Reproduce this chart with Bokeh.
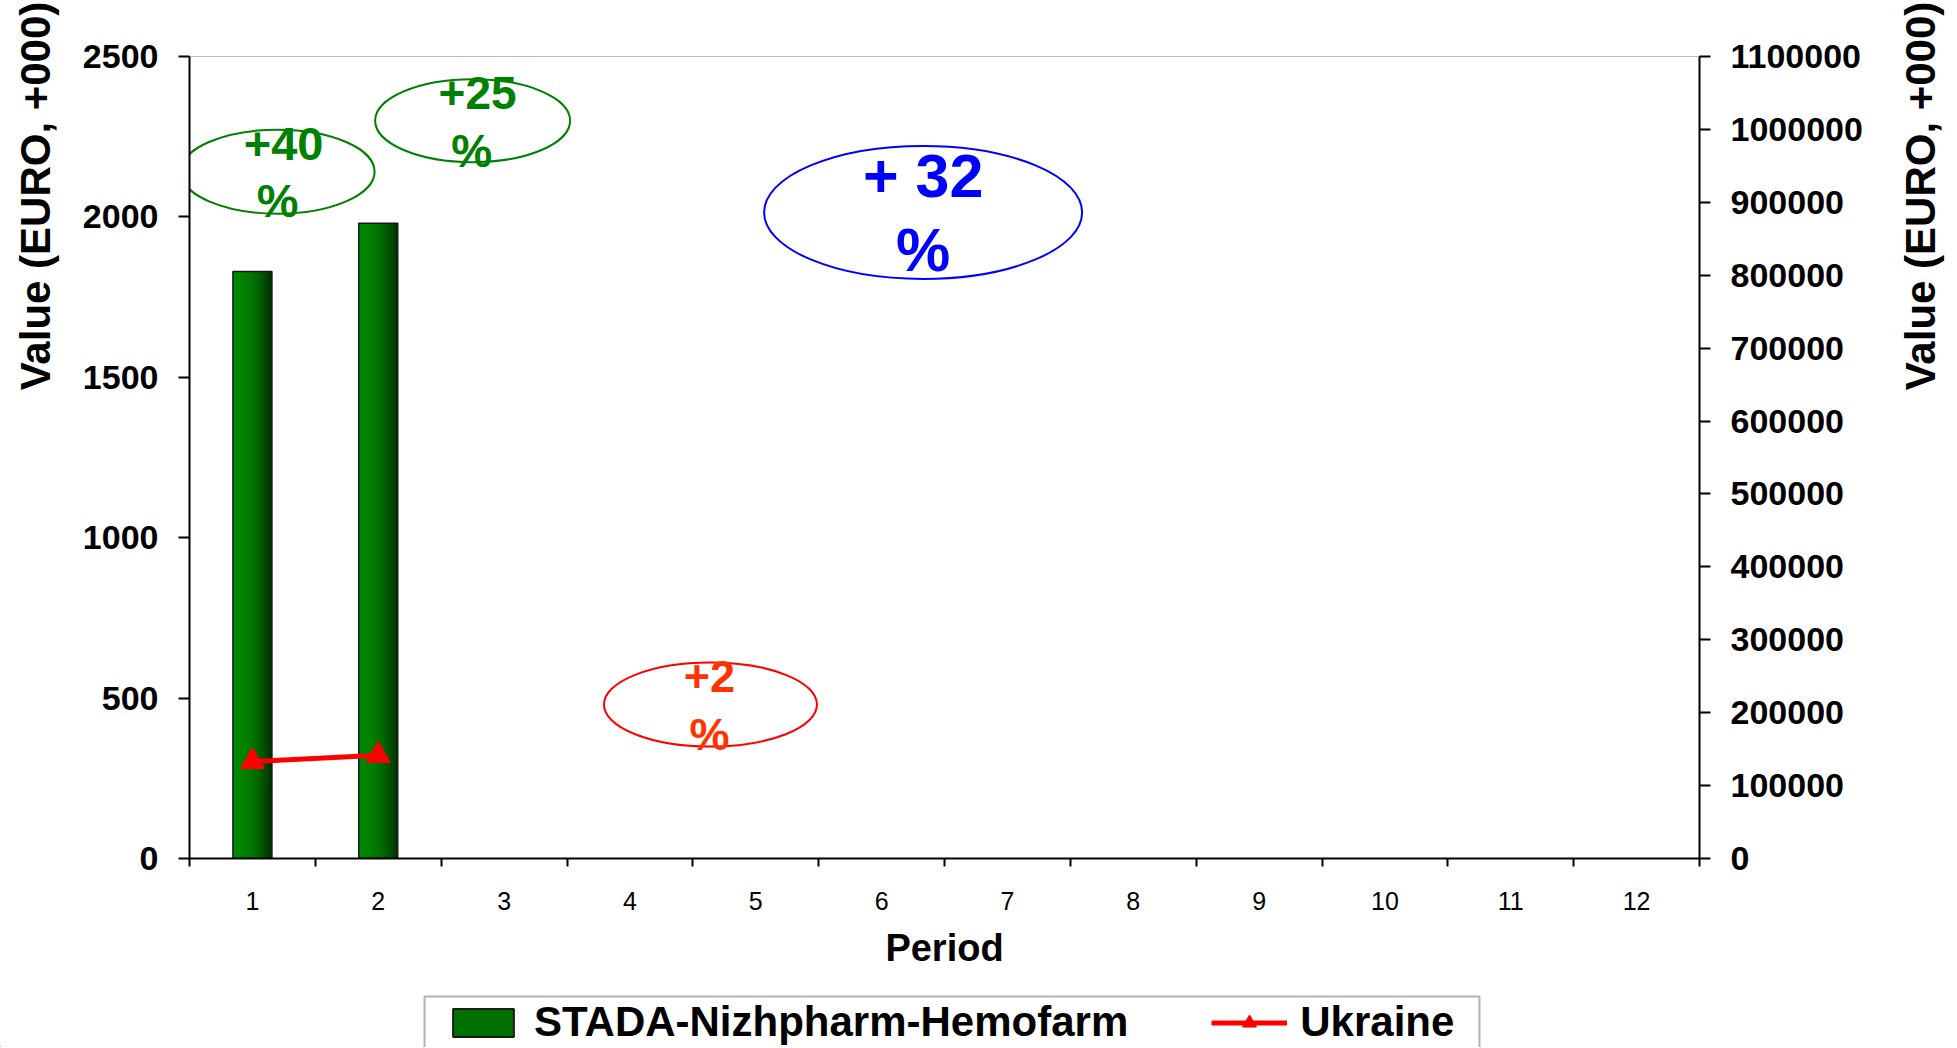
import numpy as np
from bokeh.plotting import figure
from bokeh.layouts import row, column
from bokeh.models import (Range1d, LinearAxis, FixedTicker, NumeralTickFormatter,
                          Legend, LegendItem, ColumnDataSource, BoxAnnotation, Div)
from bokeh.transform import dodge
from bokeh.core.properties import value
from bokeh.embed import file_html
from bokeh.resources import INLINE

# ---------------- data ----------------
periods = list(range(1, 13))
period_labels = [str(i) for i in periods]
bar_periods = [1, 2]
stada_values = [1830, 1980]            # left axis (EURO, +000)
ukraine_periods = [1, 2]
ukraine_values = [133000, 141500]      # right axis (EURO, +000)

left_ticks = [0, 500, 1000, 1500, 2000, 2500]
right_ticks = [0, 100000, 200000, 300000, 400000, 500000, 600000,
               700000, 800000, 900000, 1000000, 1100000]

series_names = ["STADA-Nizhpharm-Hemofarm", "Ukraine"]
axis_title = "Value (EURO, +000)"

# growth call-outs (ellipse + two-line text)
callout_top = ["+40", "+25", "+2", "+ 32"]
callout_bottom = ["%", "%", "%", "%"]
callout_period = [1.20, 2.75, 4.64, 6.33]
callout_level = [2141, 2300, 480, 2014]

# ---------------- styling ----------------
FONT = "Liberation Sans"
callout_line_colors = ["#008000", "#008000", "#FF0000", "#0000FF"]
callout_text_colors = ["#008000", "#008000", "#FF3300", "#0000FF"]
callout_w = [194, 195, 213, 318]
callout_h = [84, 83, 84, 133]
callout_fs = ["47px", "46px", "45px", "61px"]
top_dx = [6, 5, -1, 0]
top_dy = [-28, -28, -28, -36]
bot_dx = [0, -1, -1, 0]
bot_dy = [29, 30, 30, 38]

TOP_H = 990
LEFT_W, MAIN_W, RIGHT_W = 70, 1815, 65
TOTAL_W = LEFT_W + MAIN_W + RIGHT_W
LEG_H = 57

# ---------------- main chart ----------------
p = figure(width=MAIN_W, height=TOP_H, output_backend="svg", toolbar_location=None,
           x_range=Range1d(0.5, 12.5), y_range=Range1d(0, 2500),
           min_border_left=119, min_border_right=186,
           min_border_top=56, min_border_bottom=TOP_H - 858,
           background_fill_color="white", border_fill_color="white")
p.extra_y_ranges = {"right": Range1d(0, 1100000)}
p.xgrid.visible = False
p.ygrid.visible = False
p.outline_line_color = "#BBBBBB"
p.outline_line_width = 1

xa = p.xaxis[0]
xa.ticker = FixedTicker(ticks=periods,
                        minor_ticks=[v - 0.5 for v in periods] + [periods[-1] + 0.5])
xa.major_label_overrides = {v: s for v, s in zip(periods, period_labels)}
xa.major_tick_line_color = None
xa.major_tick_out = 0
xa.major_tick_in = 0
xa.minor_tick_line_color = "black"
xa.minor_tick_line_width = 2
xa.minor_tick_out = 8
xa.minor_tick_in = 0
xa.axis_line_color = "black"
xa.axis_line_width = 2
xa.major_label_standoff = 25
xa.major_label_text_font = FONT
xa.major_label_text_font_size = "25px"
xa.major_label_text_color = "black"
xa.axis_label = "Period"
xa.axis_label_text_font = FONT
xa.axis_label_text_font_size = "38px"
xa.axis_label_text_font_style = "bold"
xa.axis_label_text_color = "black"
xa.axis_label_standoff = 14

ya = p.yaxis[0]
ya.ticker = FixedTicker(ticks=left_ticks)
ya.formatter = NumeralTickFormatter(format="0")
ya.major_tick_out = 11
ya.major_tick_in = 0
ya.major_tick_line_width = 2
ya.minor_tick_line_color = None
ya.axis_line_width = 2
ya.major_label_standoff = 20
ya.major_label_text_font = FONT
ya.major_label_text_font_size = "34px"
ya.major_label_text_font_style = "bold"
ya.major_label_text_color = "black"

ra = LinearAxis(y_range_name="right", ticker=FixedTicker(ticks=right_ticks),
                formatter=NumeralTickFormatter(format="0"))
ra.major_tick_out = 11
ra.major_tick_in = 0
ra.major_tick_line_width = 2
ra.minor_tick_line_color = None
ra.axis_line_width = 2
ra.major_label_standoff = 20
ra.major_label_text_font = FONT
ra.major_label_text_font_size = "34px"
ra.major_label_text_font_style = "bold"
ra.major_label_text_color = "black"
p.add_layout(ra, "right")

# bars with a left-to-right green gradient (layered strips)
bar_src = ColumnDataSource(dict(x=bar_periods, top=stada_values))
bar_w = 0.31
n_strips = 16
strip_w = bar_w / n_strips
c0 = np.array([0, 136, 0])
c1 = np.array([0, 52, 0])
legend_fill = "#007000"
for i in range(n_strips):
    t = (i / (n_strips - 1)) ** 2
    c = (c0 * (1 - t) + c1 * t).astype(int)
    col = "#%02x%02x%02x" % tuple(c)
    p.vbar(x=dodge("x", i * strip_w / 2, range=None), top="top", bottom=0,
           width=bar_w - i * strip_w, source=bar_src, fill_color=col, line_color=None)
p.vbar(x="x", top="top", bottom=0, width=bar_w, source=bar_src,
       fill_color=None, line_color="#1a1a1a", line_width=1.5)

u_src = ColumnDataSource(dict(x=ukraine_periods, y=ukraine_values))
p.line("x", "y", source=u_src, y_range_name="right", line_color="#FF0000", line_width=5)
p.scatter("x", "y", source=u_src, y_range_name="right", marker="triangle", size=24,
          fill_color="#FF0000", line_color="#FF0000")

c_src = ColumnDataSource(dict(x=callout_period, y=callout_level, w=callout_w, h=callout_h,
                              lc=callout_line_colors, tc=callout_text_colors, fs=callout_fs,
                              top=callout_top, bot=callout_bottom,
                              tdx=top_dx, tdy=top_dy, bdx=bot_dx, bdy=bot_dy))
p.ellipse(x="x", y="y", width="w", height="h", width_units="screen", height_units="screen",
          fill_color=None, line_color="lc", line_width=2, source=c_src)
for col_name, dx, dy in (("top", "tdx", "tdy"), ("bot", "bdx", "bdy")):
    p.text(x="x", y="y", text=col_name, x_offset=dx, y_offset=dy, text_color="tc",
           text_font=value(FONT), text_font_size="fs", text_font_style="bold",
           text_align="center", text_baseline="middle", source=c_src)


# ---------------- side strips holding the rotated axis titles ----------------
def title_div(width, cx, cy):
    html = (
        f'<div style="position:relative;width:{width}px;height:{TOP_H}px;">'
        f'<div style="position:absolute;left:{cx}px;top:{cy}px;'
        f'transform:translate(-50%,-50%) rotate(-90deg);white-space:nowrap;'
        f"font-family:'{FONT}';font-weight:bold;font-size:42px;line-height:1;"
        f'color:black;">{axis_title}</div></div>'
    )
    return Div(text=html, width=width, height=TOP_H, margin=0)


left_div = title_div(LEFT_W, 36, 196)
right_div = title_div(RIGHT_W, 1921 - LEFT_W - MAIN_W, 196)

# ---------------- legend strip ----------------
lf = figure(width=TOTAL_W, height=LEG_H, output_backend="svg", toolbar_location=None,
            x_range=Range1d(0, TOTAL_W), y_range=Range1d(0, LEG_H),
            x_axis_type=None, y_axis_type=None, min_border=0,
            outline_line_color=None, background_fill_color="white",
            border_fill_color="white")
lf.grid.visible = False
# series renderers on ranges that keep them out of view; they only feed the legend
lf.extra_x_ranges = {"off": Range1d(100, 200)}
lf.extra_y_ranges = {"off_l": Range1d(1e7, 2e7), "off_r": Range1d(1e9, 2e9)}
lg_bar = lf.vbar(x="x", top="top", bottom=0, width=bar_w, source=bar_src,
                 x_range_name="off", y_range_name="off_l",
                 fill_color=legend_fill, line_color="#1a1a1a", line_width=2)
lg_line = lf.line("x", "y", source=u_src, x_range_name="off", y_range_name="off_r",
                  line_color="#FF0000", line_width=5)
lg_tri = lf.scatter("x", "y", source=u_src, x_range_name="off", y_range_name="off_r",
                    marker="triangle", size=24, fill_color="#FF0000", line_color="#FF0000")
lf.add_layout(BoxAnnotation(left=424, right=1479, top=LEG_H - 6, bottom=-10,
                            fill_alpha=0, line_color="black", line_width=2))
legend = Legend(items=[LegendItem(label=series_names[0], renderers=[lg_bar]),
                       LegendItem(label=series_names[1], renderers=[lg_line, lg_tri])],
                orientation="horizontal", location=(445, 1),
                border_line_color=None, background_fill_alpha=0,
                label_text_font=FONT, label_text_font_size="42px",
                label_text_font_style="bold", label_text_color="black",
                glyph_width=76, glyph_height=35, label_standoff=13,
                spacing=83, padding=6, margin=0)
lf.add_layout(legend)

layout = column(row(left_div, p, right_div), lf)
open("out.html", "w").write(file_html(layout, INLINE))
